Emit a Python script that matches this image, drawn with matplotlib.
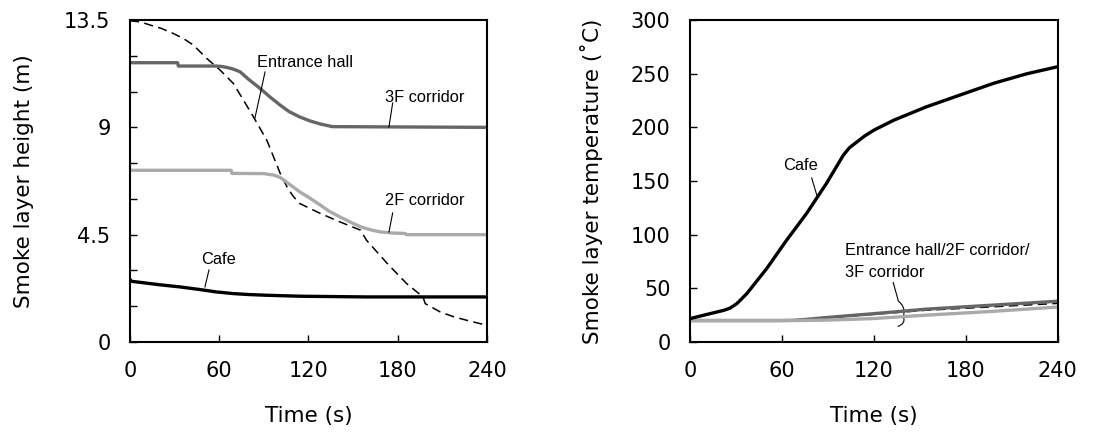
import matplotlib
matplotlib.use("Agg")
import matplotlib.pyplot as plt
from matplotlib.path import Path
from matplotlib.patches import PathPatch

# ---- left panel: smoke layer height (m) ----
t_3f = [0, 32, 32.5, 58, 62, 66, 70, 74, 80, 87.5, 94, 101, 107, 114, 121, 128, 136, 240]
h_3f = [11.71, 11.71, 11.57, 11.57, 11.55, 11.50, 11.43, 11.33, 11.0, 10.63, 10.28,
        9.93, 9.66, 9.44, 9.27, 9.14, 9.03, 9.0]

t_2f = [0, 68, 68.5, 90, 96.5, 101, 105, 114, 121, 128, 134, 141, 148, 155, 162, 168,
        176, 185, 186, 240]
h_2f = [7.2, 7.2, 7.07, 7.06, 7.0, 6.9, 6.72, 6.30, 6.03, 5.74, 5.48, 5.25, 5.03, 4.83,
        4.70, 4.62, 4.57, 4.55, 4.5, 4.5]

t_cafe = [0, 0.5, 20, 33.6, 47, 58, 69.5, 80, 92, 114, 159, 240]
h_cafe = [2.62, 2.55, 2.40, 2.31, 2.20, 2.10, 2.03, 1.99, 1.96, 1.92, 1.89, 1.89]

t_hall = [0, 7, 13.5, 21, 29, 36, 42.6, 51.6, 60.6, 69.5, 76, 83, 92, 101, 106, 110,
          114, 128, 141, 155, 159, 173, 186, 197, 198.5, 208.6, 218, 226.5, 240]
h_hall = [13.47, 13.42, 13.29, 13.15, 12.94, 12.72, 12.45, 11.89, 11.4, 10.84, 10.17,
          9.44, 8.46, 7.07, 6.45, 6.09, 5.81, 5.39, 5.04, 4.69, 4.27, 3.29, 2.45, 1.89,
          1.61, 1.26, 1.05, 0.91, 0.70]

# ---- right panel: smoke layer temperature (C) ----
t_cafe_T = [0, 13, 22, 26, 30.5, 37, 50, 63, 76, 89, 95, 100, 104, 109, 114, 120, 133,
            154, 176, 198, 220, 240]
T_cafe = [21.8, 26.4, 29.5, 31.5, 35.7, 45, 68.4, 94.8, 119.7, 147.7, 162, 174, 181,
          186.5, 192, 197.4, 206.7, 219, 230, 241, 250, 256.5]

t_low = [0, 60, 67, 75, 89, 105, 120, 154, 198, 240]
T_3f = [20, 20, 20.2, 21.0, 22.8, 24.7, 26.4, 30.6, 34.4, 38]
T_hall = [20, 20, 20.2, 20.8, 22.4, 24.2, 25.8, 29.6, 32.8, 36]
T_2f = [20, 20, 20, 20.1, 20.4, 21.1, 21.9, 25, 28.6, 32.6]

DARK = "#666666"
LIGHT = "#aaaaaa"
LW = 2.4

plt.rcParams.update({"font.family": "DejaVu Sans"})
fig = plt.figure(figsize=(11.11, 4.4), dpi=100)
ax1 = fig.add_axes([0.117, 0.2227, 0.3213, 0.7318])
ax2 = fig.add_axes([0.6211, 0.2227, 0.331, 0.7318])

ann = dict(fontsize=11.8, family="Liberation Sans", ha="center", va="center")

ax1.plot(t_hall, h_hall, color="black", lw=1.1, ls=(0, (6, 3.5)))
ax1.plot(t_3f, h_3f, color=DARK, lw=LW)
ax1.plot(t_2f, h_2f, color=LIGHT, lw=LW)
ax1.plot(t_cafe, h_cafe, color="black", lw=LW)
ax1.set_xlim(0, 240)
ax1.set_ylim(0, 13.5)
ax1.set_yticks([0, 4.5, 9, 13.5])
ax1.set_yticklabels(["0", "4.5", "9", "13.5"])
ax1.set_yticks([1.5, 3, 6, 7.5, 10.5, 12], minor=True)
ax1.set_ylabel("Smoke layer height (m)", fontsize=15.5, labelpad=22)

ax1.text(117.6, 11.7, "Entrance hall", **ann)
ax1.plot([90.8, 84], [11.32, 9.39], color="black", lw=0.8)
ax1.text(198.3, 10.27, "3F corridor", **ann)
ax1.plot([176.6, 174.1], [10.02, 9.01], color="black", lw=0.8)
ax1.text(198.3, 5.95, "2F corridor", **ann)
ax1.plot([176.6, 174.1], [5.41, 4.61], color="black", lw=0.8)
ax1.text(59.2, 3.48, "Cafe", **ann)
ax1.plot([53.1, 50.4], [3.02, 2.31], color="black", lw=0.8)

ax2.plot(t_low, T_hall, color="black", lw=1.1, ls=(0, (6, 3.5)))
ax2.plot(t_low, T_3f, color=DARK, lw=LW)
ax2.plot(t_low, T_2f, color=LIGHT, lw=LW)
ax2.plot(t_cafe_T, T_cafe, color="black", lw=LW)
ax2.set_xlim(0, 240)
ax2.set_ylim(0, 300)
ax2.set_yticks(range(0, 301, 50))
ax2.set_ylabel("Smoke layer temperature (\u02daC)", fontsize=15.5, labelpad=20)

ax2.text(71.8, 164.9, "Cafe", **ann)
ax2.plot([79.4, 82.7], [152.8, 137], color="black", lw=0.8)
ax2.text(101.2, 85.7, "Entrance hall/2F corridor/", fontsize=11.8, family="Liberation Sans",
         ha="left", va="center")
ax2.text(101.2, 65.2, "3F corridor", fontsize=11.8, family="Liberation Sans",
         ha="left", va="center")
# leader with a small brace across the low curves
brace = Path([(132.5, 55.9), (136.0, 38.0), (140.5, 33.0), (139.5, 26.0),
              (139.5, 22.0), (140.5, 17.0), (135.5, 14.5)],
             [Path.MOVETO, Path.LINETO, Path.CURVE3, Path.CURVE3, Path.LINETO,
              Path.CURVE3, Path.CURVE3])
ax2.add_patch(PathPatch(brace, fill=False, lw=0.8, color="black"))

for ax in (ax1, ax2):
    ax.set_xticks(range(0, 241, 60))
    ax.set_xlabel("Time (s)", fontsize=15.5, labelpad=18)
    ax.tick_params(which="both", direction="in", length=5, width=1.0, labelsize=15,
                   top=False, right=False)
    ax.tick_params(axis="x", pad=14)
    ax.tick_params(axis="y", pad=14)
    for s in ax.spines.values():
        s.set_linewidth(1.5)

fig.savefig("out.png", dpi=100)
